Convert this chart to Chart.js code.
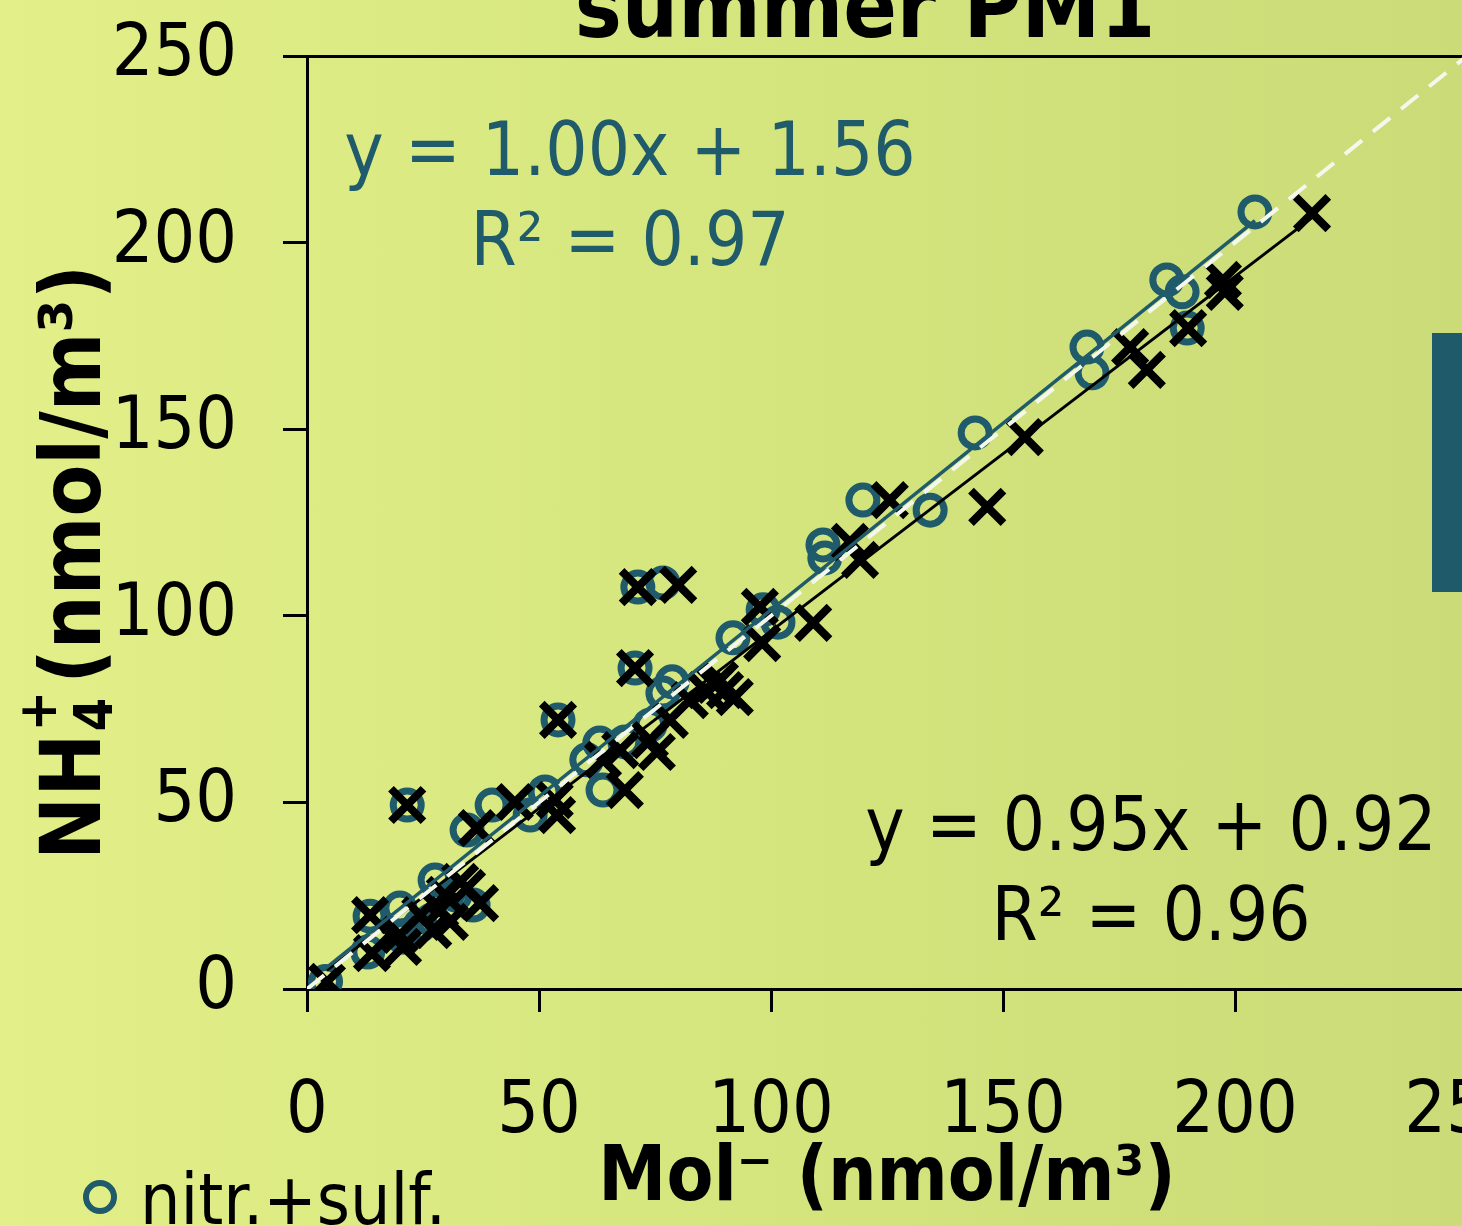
<!DOCTYPE html>
<html>
<head>
<meta charset="utf-8">
<title>summer PM1</title>
<script src="https://cdn.jsdelivr.net/npm/chart.js@4.4.1/dist/chart.umd.min.js"></script>
<style>
  html, body { margin: 0; padding: 0; overflow: hidden; }
  body {
    width: 1462px; height: 1226px;
    background: linear-gradient(90deg, #e3ef88 0%, #d5e67e 50%, #cadb78 100%);
  }
  #wrap { position: absolute; left: 0; top: 0; width: 1462px; height: 1226px; overflow: hidden; }
  canvas { display: block; }
</style>
</head>
<body>
<div id="wrap"><canvas id="chart" width="1560" height="1226"></canvas></div>
<script>
const FONT = "'DejaVu Sans Condensed', 'DejaVu Sans', sans-serif";
const TEAL = '#1f5b6b';

// nitr.+sulf. (open circles)
const circleX = [4.0, 13.6, 13.1, 20.0, 20.7, 24.4, 27.6, 26.9, 31.9, 35.8,
  21.6, 34.5, 39.9, 48.1, 51.3, 54.1, 60.3, 63.1, 63.8, 68.5,
  73.9, 71.3, 76.7, 70.7, 76.7, 78.7, 91.8, 98.3, 101.5, 111.2,
  111.6, 119.8, 134.3, 144.0, 168.1, 169.2, 185.3, 188.6, 189.7, 204.3];
const circleY = [2.0, 19.5, 9.9, 21.7, 13.9, 17.1, 29.2, 18.5, 25.2, 22.5,
  49.3, 42.6, 49.3, 46.6, 52.8, 72.1, 61.4, 65.9, 53.3, 66.2,
  70.7, 107.7, 108.8, 86.0, 79.3, 82.3, 94.1, 101.6, 98.3, 119.0,
  115.5, 131.0, 128.3, 149.0, 172.0, 165.1, 190.0, 186.8, 177.1, 208.2];

// second series (crosses)
const crossX = [4.3, 13.6, 14.0, 20.7, 20.0, 24.4, 27.2, 28.7, 29.7, 30.8,
  33.0, 34.5, 37.3, 21.6, 36.6, 44.8, 53.4, 53.9, 54.1, 63.8,
  67.5, 68.5, 73.9, 75.4, 78.2, 82.5, 85.8, 87.9, 89.0, 90.1,
  92.2, 71.3, 80.0, 70.7, 97.6, 98.1, 109.1, 117.0, 119.2, 125.6,
  146.6, 154.7, 177.4, 181.0, 189.9, 197.4, 197.8, 216.6];
const crossY = [1.9, 19.8, 9.6, 11.3, 14.5, 19.8, 15.8, 21.2, 25.2, 18.0,
  28.7, 27.1, 23.0, 49.3, 43.1, 50.1, 50.6, 46.6, 72.1, 61.4,
  64.0, 53.3, 66.7, 63.5, 72.1, 77.4, 80.1, 81.5, 82.8, 80.1,
  78.2, 107.7, 108.3, 86.0, 102.4, 92.7, 98.1, 119.8, 115.0, 131.0,
  129.2, 147.9, 172.0, 165.9, 177.1, 190.0, 186.8, 207.9];

// fits printed on the figure
const circleFit = { slope: 1.00, intercept: 1.56, r2: '0.97', from: 4.0, to: 204.3 };
const crossFit = { slope: 0.95, intercept: 0.92, r2: '0.96', from: 4.3, to: 216.6 };

const axisMin = 0;
const axisMax = 250;
const tickStep = 50;

function points(xs, ys) {
  return xs.map((x, i) => ({ x: x, y: ys[i] }));
}
function fitLine(f) {
  return [f.from, f.to].map(x => ({ x: x, y: f.slope * x + f.intercept }));
}
function eqText(f) {
  return 'y = ' + f.slope.toFixed(2) + 'x + ' + f.intercept.toFixed(2);
}
// no automatic room for edge labels, the layout padding sets the plot box
function noLabelPadding(s) {
  s.paddingTop = 0;
  s.paddingBottom = 0;
  s.paddingLeft = 0;
  s.paddingRight = 0;
}

// texts, legend and the cut-off box of the neighbouring panel
const extras = {
  id: 'extras',
  afterDraw(chart) {
    const ctx = chart.ctx;
    ctx.save();
    ctx.fillStyle = '#000';
    ctx.textAlign = 'center';
    ctx.textBaseline = 'alphabetic';
    ctx.font = 'bold 88px ' + FONT;
    ctx.fillText('summer PM1', 865, 37);

    // y-axis title with stacked sub/superscript
    ctx.save();
    ctx.translate(100, 860);
    ctx.rotate(-Math.PI / 2);
    ctx.textAlign = 'left';
    ctx.font = 'bold 84px ' + FONT;
    ctx.fillText('NH', 0, 0);
    let w = ctx.measureText('NH').width;
    ctx.font = 'bold 54px ' + FONT;
    ctx.fillText('4', w + 2, 12);
    ctx.fillText('+', w + 2, -44);
    w += ctx.measureText('4').width + 16;
    ctx.font = 'bold 84px ' + FONT;
    ctx.fillText('(nmol/m\u00b3)', w, 0);
    ctx.restore();

    // regression equations
    ctx.font = '74px ' + FONT;
    ctx.textAlign = 'center';
    ctx.fillStyle = TEAL;
    ctx.fillText(eqText(circleFit), 630, 175);
    ctx.fillText('R\u00b2 = ' + circleFit.r2, 630, 265);
    ctx.fillStyle = '#000';
    ctx.fillText(eqText(crossFit), 1151, 850);
    ctx.fillText('R\u00b2 = ' + crossFit.r2, 1151, 940);

    // legend entry
    ctx.strokeStyle = TEAL;
    ctx.lineWidth = 6;
    ctx.beginPath();
    ctx.arc(100, 1197, 14, 0, Math.PI * 2);
    ctx.stroke();
    ctx.textAlign = 'left';
    ctx.fillStyle = '#000';
    ctx.font = '71px ' + FONT;
    ctx.fillText(chart.data.datasets[4].label, 140, 1224);

    ctx.fillStyle = '#1f5a6a';
    ctx.fillRect(1432, 333, 60, 259);
    ctx.restore();
  }
};

new Chart(document.getElementById('chart'), {
  type: 'scatter',
  data: {
    datasets: [
      {
        label: '1:1',
        data: [{ x: axisMin, y: axisMin }, { x: axisMax, y: axisMax }],
        showLine: true, borderColor: '#f4f8ec', borderWidth: 4, borderDash: [22, 14],
        pointRadius: 0, order: 0
      },
      {
        label: 'fit nitr.+sulf.',
        data: fitLine(circleFit),
        showLine: true, borderColor: TEAL, borderWidth: 3.5, pointRadius: 0, order: 1
      },
      {
        label: 'fit crosses',
        data: fitLine(crossFit),
        showLine: true, borderColor: '#000', borderWidth: 3, pointRadius: 0, order: 2
      },
      {
        label: 'crosses',
        data: points(crossX, crossY),
        pointStyle: 'crossRot', pointRadius: 23, borderWidth: 8,
        borderColor: '#000', backgroundColor: '#000', order: 3
      },
      {
        label: 'nitr.+sulf.',
        data: points(circleX, circleY),
        pointStyle: 'circle', pointRadius: 14, borderWidth: 7,
        borderColor: TEAL, backgroundColor: 'rgba(0,0,0,0)', order: 4
      }
    ]
  },
  options: {
    responsive: false,
    animation: false,
    devicePixelRatio: 1,
    layout: { padding: { top: 56, right: 93, left: 0, bottom: 0 } },
    plugins: { legend: { display: false }, tooltip: { enabled: false }, title: { display: false } },
    scales: {
      x: {
        type: 'linear', min: axisMin, max: axisMax,
        afterFit: s => { s.height = 237; noLabelPadding(s); },
        ticks: { stepSize: tickStep, color: '#000', padding: 57, font: { family: FONT, size: 73 }, maxRotation: 0 },
        grid: { color: 'rgba(0,0,0,0)', tickColor: '#000', tickLength: 23, lineWidth: 3 },
        border: { display: true, color: '#000', width: 3 },
        title: {
          display: true, text: 'Mol\u207b (nmol/m\u00b3)', color: '#000',
          font: { family: FONT, size: 76, weight: 'bold' }, padding: { top: 0, bottom: 0 }
        }
      },
      y: {
        type: 'linear', min: axisMin, max: axisMax,
        afterFit: s => { s.width = 307; noLabelPadding(s); },
        ticks: { stepSize: tickStep, color: '#000', padding: 46, font: { family: FONT, size: 73 } },
        grid: {
          color: c => (c.tick && c.tick.value === axisMax ? '#000' : 'rgba(0,0,0,0)'),
          tickColor: '#000', tickLength: 24, lineWidth: 3
        },
        border: { display: true, color: '#000', width: 3 }
      }
    }
  },
  plugins: [extras]
});
</script>
</body>
</html>
